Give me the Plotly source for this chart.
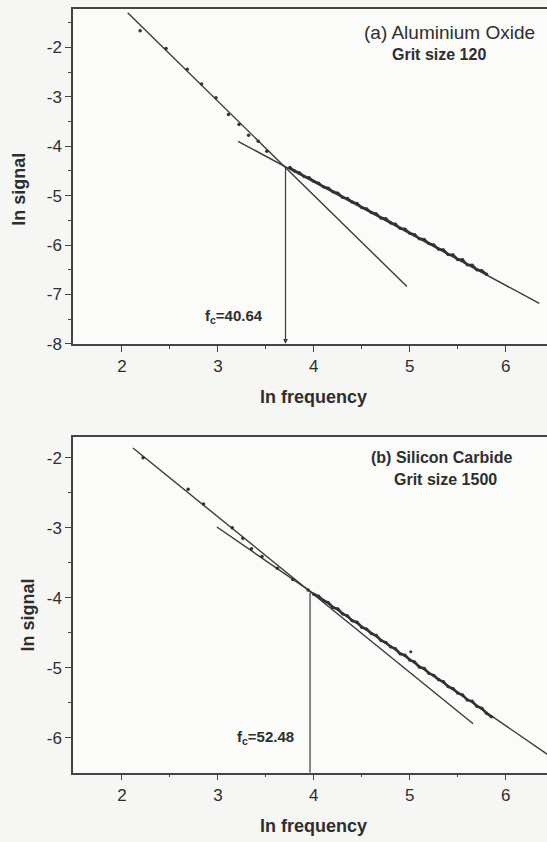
import numpy as np
import plotly.graph_objects as go

# ---------------- data ----------------
# Panel (a) Aluminium Oxide, grit size 120
a_sparse_x = [2.19, 2.46, 2.68, 2.83, 2.98, 3.11, 3.22, 3.32, 3.42, 3.51]
a_sparse_y = [-1.66, -2.02, -2.44, -2.74, -3.02, -3.36, -3.56, -3.78, -3.90, -4.10]
a_dense_x = [3.75, 3.80, 3.85, 3.90, 3.95, 4.00, 4.05, 4.10, 4.15, 4.20, 4.25, 4.30, 4.35, 4.40,
             4.45, 4.50, 4.55, 4.60, 4.65, 4.70, 4.75, 4.80, 4.85, 4.90, 4.95, 5.00, 5.05, 5.10,
             5.15, 5.20, 5.25, 5.30, 5.35, 5.40, 5.45, 5.50, 5.55, 5.60, 5.65, 5.70, 5.75, 5.80]
a_dense_y = [-4.43, -4.50, -4.54, -4.61, -4.64, -4.71, -4.75, -4.82, -4.85, -4.92, -4.95, -5.03,
             -5.06, -5.13, -5.16, -5.24, -5.27, -5.34, -5.37, -5.45, -5.47, -5.55, -5.58, -5.66,
             -5.68, -5.76, -5.79, -5.87, -5.89, -5.97, -6.00, -6.08, -6.10, -6.19, -6.20, -6.29,
             -6.30, -6.40, -6.41, -6.50, -6.52, -6.59]
a_fit1_x = [2.06, 4.97]
a_fit1_y = [-1.30, -6.84]
a_fit2_x = [3.21, 6.35]
a_fit2_y = [-3.90, -7.18]
a_fc = 40.64
a_cross_y = -4.40

# Panel (b) Silicon Carbide, grit size 1500
b_sparse_x = [2.22, 2.69, 2.85, 3.15, 3.26, 3.35, 3.46, 3.62, 3.78, 3.94]
b_sparse_y = [-2.00, -2.45, -2.66, -3.00, -3.15, -3.30, -3.41, -3.58, -3.74, -3.89]
b_dense_x = [4.00, 4.05, 4.10, 4.15, 4.20, 4.25, 4.30, 4.35, 4.40, 4.45, 4.50, 4.55, 4.60, 4.65,
             4.70, 4.75, 4.80, 4.85, 4.90, 4.95, 5.00, 5.05, 5.10, 5.15, 5.20, 5.25, 5.30, 5.35,
             5.40, 5.45, 5.50, 5.55, 5.60, 5.65, 5.70, 5.75, 5.80, 5.85]
b_dense_y = [-3.95, -3.98, -4.04, -4.07, -4.14, -4.16, -4.23, -4.26, -4.33, -4.35, -4.42, -4.45,
             -4.51, -4.54, -4.61, -4.64, -4.70, -4.73, -4.80, -4.82, -4.89, -4.92, -4.99, -5.01,
             -5.08, -5.11, -5.17, -5.20, -5.27, -5.30, -5.36, -5.39, -5.46, -5.48, -5.55, -5.58,
             -5.65, -5.70]
b_outlier_x = [5.01]
b_outlier_y = [-4.77]
b_fit1_x = [2.115, 5.66]
b_fit1_y = [-1.86, -5.80]
b_fit2_x = [2.99, 6.50]
b_fit2_y = [-2.99, -6.30]
b_fc = 52.48
b_cross_y = -3.93

x_ticks = [2, 3, 4, 5, 6]
a_y_ticks = [-8, -7, -6, -5, -4, -3, -2]
b_y_ticks = [-6, -5, -4, -3, -2]

# ---------------- styling ----------------
INK = "#2e2e2e"
LINE = "#3a3a3a"
FONT = "Liberation Sans, Arial, sans-serif"

fig = go.Figure()


def add_panel(xa, ya, sx, sy, dx, dy, f1x, f1y, f2x, f2y, extra_x=None, extra_y=None):
    fig.add_trace(go.Scatter(x=f1x, y=f1y, mode="lines", xaxis=xa, yaxis=ya,
                             line=dict(color=LINE, width=1.4), showlegend=False, hoverinfo="skip"))
    fig.add_trace(go.Scatter(x=f2x, y=f2y, mode="lines", xaxis=xa, yaxis=ya,
                             line=dict(color=LINE, width=1.4), showlegend=False, hoverinfo="skip"))
    fig.add_trace(go.Scatter(x=dx, y=dy, mode="lines+markers", xaxis=xa, yaxis=ya,
                             line=dict(color="#333333", width=2.6),
                             marker=dict(color="#333333", size=3.5), showlegend=False))
    fig.add_trace(go.Scatter(x=sx, y=sy, mode="markers", xaxis=xa, yaxis=ya,
                             marker=dict(color="#333333", size=3.5), showlegend=False))
    if extra_x:
        fig.add_trace(go.Scatter(x=extra_x, y=extra_y, mode="markers", xaxis=xa, yaxis=ya,
                                 marker=dict(color="#333333", size=3), showlegend=False))


add_panel("x", "y", a_sparse_x, a_sparse_y, a_dense_x, a_dense_y,
          a_fit1_x, a_fit1_y, a_fit2_x, a_fit2_y)
add_panel("x2", "y2", b_sparse_x, b_sparse_y, b_dense_x, b_dense_y,
          b_fit1_x, b_fit1_y, b_fit2_x, b_fit2_y, b_outlier_x, b_outlier_y)

# vertical marker at ln(fc) for panel (b)
b_lnfc = float(np.log(b_fc))
fig.add_trace(go.Scatter(x=[b_lnfc, b_lnfc], y=[b_cross_y, -6.5], mode="lines",
                         xaxis="x2", yaxis="y2", line=dict(color=LINE, width=1.2),
                         showlegend=False, hoverinfo="skip"))

a_lnfc = float(np.log(a_fc))

X_RANGE = [1.49, 6.43]
XDOM = [73 / 547, 1.0]

axis_common = dict(
    showline=True, linecolor="#444444", linewidth=1.5,
    ticks="outside", ticklen=6, tickwidth=1.2, tickcolor="#444444",
    showgrid=False, zeroline=False,
    tickfont=dict(family=FONT, size=17, color=INK),
)

fig.update_layout(
    width=547, height=842,
    margin=dict(l=0, r=0, t=0, b=0),
    paper_bgcolor="#f6f6f4",
    plot_bgcolor="#fbfbfa",
    showlegend=False,
    xaxis=dict(domain=XDOM, anchor="y", range=X_RANGE, tickvals=x_ticks, mirror=True,
               minor=dict(tickvals=[2.5, 3.5, 4.5, 5.5], ticks="outside", ticklen=3,
                          tickcolor="#444444"),
               **axis_common),
    yaxis=dict(domain=[1 - 348 / 842, 1 - 9 / 842], anchor="x", range=[-8, -1.22],
               tickvals=a_y_ticks, ticktext=[str(v) for v in a_y_ticks],
               minor=dict(tickvals=[-7.5, -6.5, -5.5, -4.5, -3.5, -2.5, -1.5], ticks="outside",
                          ticklen=3, tickcolor="#444444"),
               **axis_common),
    xaxis2=dict(domain=XDOM, anchor="y2", range=X_RANGE, tickvals=x_ticks, mirror=True,
                minor=dict(tickvals=[2.5, 3.5, 4.5, 5.5], ticks="outside", ticklen=3,
                           tickcolor="#444444"),
                **axis_common),
    yaxis2=dict(domain=[1 - 782 / 842, 1 - 442 / 842], anchor="x2", range=[-6.5, -1.70],
                tickvals=b_y_ticks, ticktext=[str(v) for v in b_y_ticks],
                minor=dict(tickvals=[-5.5, -4.5, -3.5, -2.5], ticks="outside",
                           ticklen=3, tickcolor="#444444"),
                **axis_common),
)

C = dict(xanchor="center", yanchor="middle")
ann = []
# arrow at ln(fc) for panel (a)
ann.append(dict(x=a_lnfc, y=-8, ax=a_lnfc, ay=a_cross_y, xref="x", yref="y",
                axref="x", ayref="y", showarrow=True, arrowhead=2, arrowsize=0.8,
                arrowwidth=1.2, arrowcolor=LINE, text=""))
# labels
ann.append(dict(x=3.17, y=-7.44, xref="x", yref="y", showarrow=False,
                text="<b>f<sub>c</sub>=40.64</b>", font=dict(family=FONT, size=15, color=INK), **C))
ann.append(dict(x=3.50, y=-6.0, xref="x2", yref="y2", showarrow=False,
                text="<b>f<sub>c</sub>=52.48</b>", font=dict(family=FONT, size=15, color=INK), **C))
ann.append(dict(x=5.41, y=-1.70, xref="x", yref="y", showarrow=False,
                text="(a) Aluminium Oxide", font=dict(family=FONT, size=19, color=INK), **C))
ann.append(dict(x=5.30, y=-2.14, xref="x", yref="y", showarrow=False,
                text="<b>Grit size 120</b>", font=dict(family=FONT, size=16, color=INK), **C))
ann.append(dict(x=5.33, y=-2.00, xref="x2", yref="y2", showarrow=False,
                text="<b>(b) Silicon Carbide</b>", font=dict(family=FONT, size=16, color=INK), **C))
ann.append(dict(x=5.375, y=-2.31, xref="x2", yref="y2", showarrow=False,
                text="<b>Grit size 1500</b>", font=dict(family=FONT, size=16, color=INK), **C))
# axis titles
for xx, yy in [(4.0, 1 - 402 / 842), (4.0, 1 - 836 / 842)]:
    ann.append(dict(x=(73 + (xx - 1.49) * 96) / 547, y=yy, xref="paper", yref="paper",
                    showarrow=False, text="<b>ln frequency</b>",
                    font=dict(family=FONT, size=18, color=INK), **C))
for xx, yy in [(19 / 547, 1 - 192 / 842), (28 / 547, 1 - 623 / 842)]:
    ann.append(dict(x=xx, y=yy, xref="paper", yref="paper", showarrow=False,
                    text="<b>ln signal</b>", textangle=-90,
                    font=dict(family=FONT, size=18, color=INK), **C))

fig.update_layout(annotations=ann)

fig.write_html("out.html")
